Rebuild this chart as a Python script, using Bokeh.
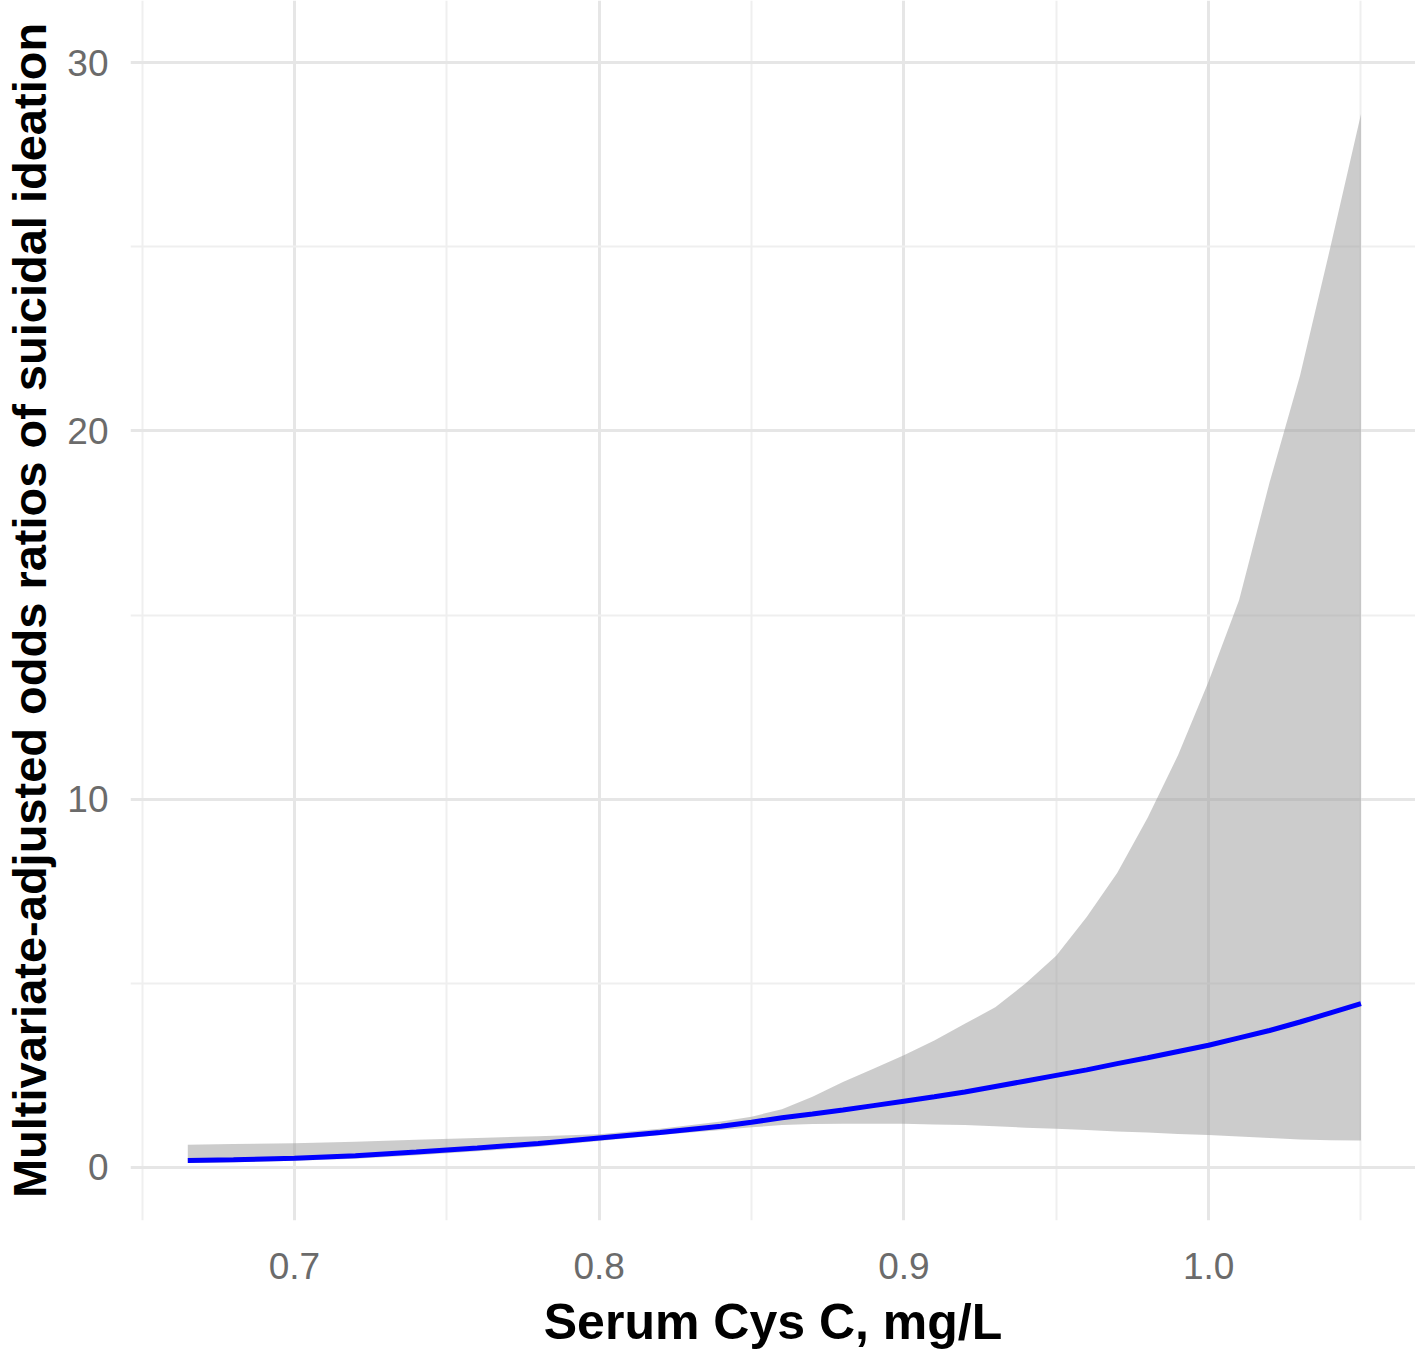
from bokeh.plotting import figure
from bokeh.models import FixedTicker, PrintfTickFormatter, Range1d
from bokeh.embed import file_html
from bokeh.resources import INLINE

# Serum Cys C (mg/L)
cysc = [0.665, 0.68, 0.70, 0.72, 0.74, 0.76, 0.78, 0.80, 0.82, 0.84, 0.85, 0.86,
        0.87, 0.88, 0.89, 0.90, 0.91, 0.92, 0.93, 0.94, 0.95, 0.96, 0.97, 0.98,
        0.99, 1.00, 1.01, 1.02, 1.03, 1.04, 1.05]
# Multivariate-adjusted odds ratio
odds_ratio = [0.19, 0.21, 0.25, 0.32, 0.42, 0.53, 0.65, 0.80, 0.95, 1.12, 1.23, 1.35,
              1.45, 1.56, 1.68, 1.80, 1.92, 2.05, 2.20, 2.35, 2.50, 2.65, 2.82, 2.98,
              3.15, 3.32, 3.52, 3.72, 3.95, 4.20, 4.45]
ci_upper = [0.62, 0.64, 0.66, 0.70, 0.75, 0.80, 0.85, 0.90, 1.05, 1.25, 1.38, 1.58,
            1.92, 2.32, 2.68, 3.05, 3.45, 3.90, 4.35, 5.00, 5.75, 6.80, 8.00, 9.50,
            11.2, 13.2, 15.4, 18.6, 21.5, 25.0, 28.6]
ci_lower = [0.12, 0.14, 0.18, 0.24, 0.33, 0.44, 0.56, 0.72, 0.88, 1.02, 1.09, 1.15,
            1.18, 1.19, 1.19, 1.19, 1.17, 1.15, 1.12, 1.08, 1.05, 1.02, 0.98, 0.95,
            0.91, 0.88, 0.84, 0.80, 0.76, 0.74, 0.73]

x_ticks = [0.7, 0.8, 0.9, 1.0]
x_minor = [0.65, 0.75, 0.85, 0.95, 1.05]
y_ticks = [0, 10, 20, 30]
y_minor = [5, 15, 25]

p = figure(width=1415, height=1355, output_backend="svg", toolbar_location=None,
           x_range=Range1d(0.6462, 1.0679), y_range=Range1d(-1.44, 31.69),
           min_border_left=130, min_border_right=0, min_border_top=0,
           min_border_bottom=135)
p.outline_line_color = None
p.background_fill_color = "white"

p.varea(x=cysc, y1=ci_lower, y2=ci_upper, fill_color="#999999", fill_alpha=0.5)
p.line(x=cysc, y=odds_ratio, line_color="#0000ff", line_width=5)

p.xaxis.ticker = FixedTicker(ticks=x_ticks, minor_ticks=x_minor)
p.yaxis.ticker = FixedTicker(ticks=y_ticks, minor_ticks=y_minor)
p.xaxis.formatter = PrintfTickFormatter(format="%.1f")
p.yaxis.formatter = PrintfTickFormatter(format="%d")

for ax in (p.xaxis[0], p.yaxis[0]):
    ax.axis_line_color = None
    ax.major_tick_line_color = None
    ax.minor_tick_line_color = None
    ax.major_label_text_font = "Liberation Sans"
    ax.major_label_text_font_size = "37px"
    ax.major_label_text_color = "#6b6b6b"
    ax.axis_label_text_font = "Liberation Sans"
    ax.axis_label_text_font_style = "bold"
    ax.axis_label_text_color = "black"

p.xaxis.axis_label = "Serum Cys C, mg/L"
p.xaxis.axis_label_text_font_size = "50px"
p.xaxis.major_label_standoff = 26
p.xaxis.axis_label_standoff = 12

p.yaxis.axis_label = "Multivariate-adjusted odds ratios of suicidal ideation"
p.yaxis.axis_label_text_font_size = "47px"
p.yaxis.major_label_standoff = 16
p.yaxis.axis_label_standoff = 8

for g in (p.xgrid[0], p.ygrid[0]):
    g.grid_line_color = "#e6e6e6"
    g.grid_line_width = 3
    g.minor_grid_line_color = "#efefef"
    g.minor_grid_line_width = 2

open("out.html", "w").write(file_html(p, INLINE))
